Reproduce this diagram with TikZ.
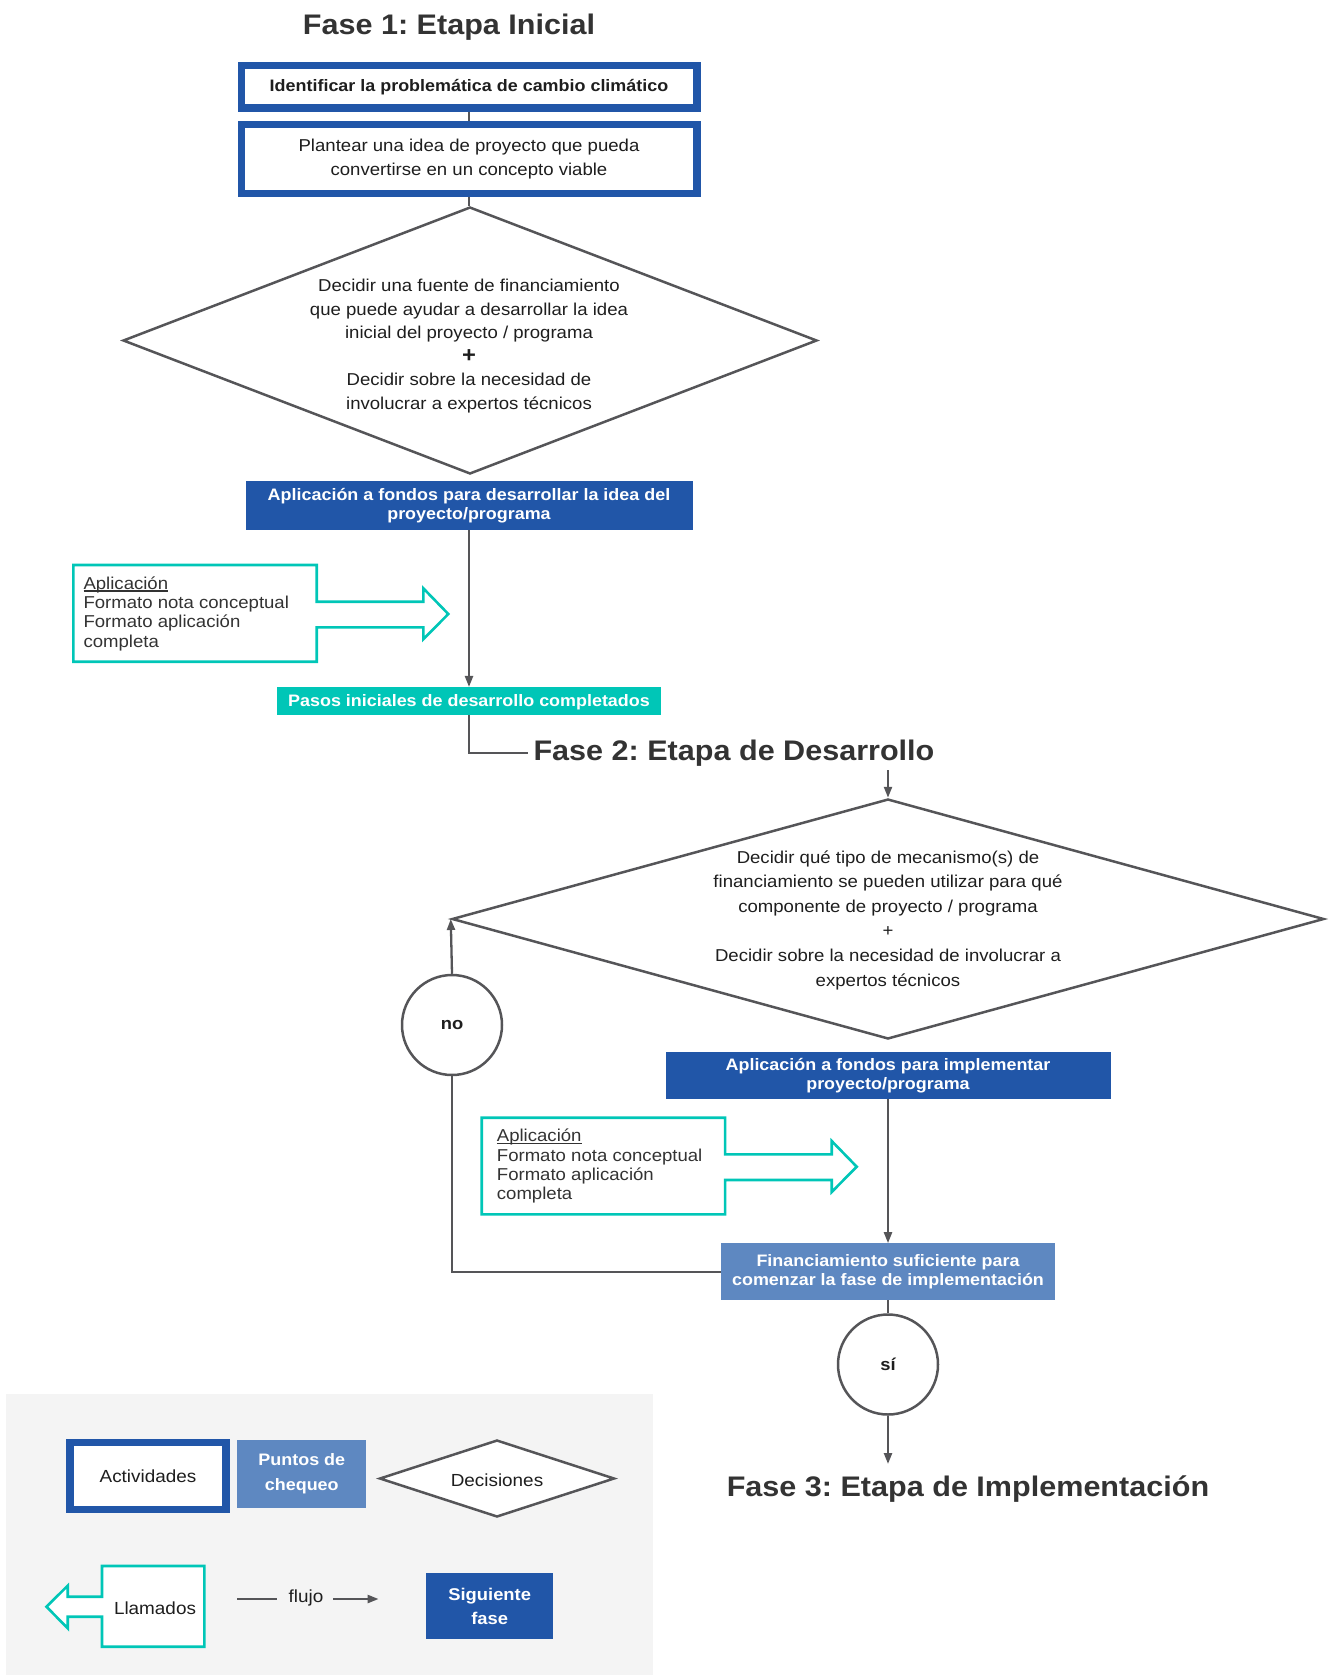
\documentclass[tikz,border=0pt]{standalone}
\usepackage{fontspec}
\setmainfont[FakeStretch=1.08]{Liberation Sans}
\usetikzlibrary{shapes.geometric,arrows.meta,calc}
\frenchspacing
\newlength\ulxlen
\newcommand{\ulx}[1]{\settowidth{\ulxlen}{#1}\rlap{\rule[-2.4pt]{\ulxlen}{1.2pt}}#1}
\definecolor{dblue}{RGB}{33,86,168}
\definecolor{lblue}{RGB}{94,136,193}
\definecolor{tealc}{RGB}{0,198,183}
\definecolor{lgbg}{RGB}{244,244,244}
\definecolor{lnc}{RGB}{85,85,88}
\definecolor{txc}{RGB}{30,30,30}
\definecolor{ttc}{RGB}{51,51,51}
\tikzset{
  actbox/.style={draw=dblue, line width=7.5pt, fill=white, inner sep=0pt, align=center, text=txc},
  bluebox/.style={fill=dblue, inner sep=0pt, align=center, text=white, font=\bfseries\fontsize{16.6}{19}\selectfont},
  lbox/.style={fill=lblue, inner sep=0pt, align=center, text=white, font=\bfseries\fontsize{16.6}{19}\selectfont},
  tbox/.style={fill=tealc, inner sep=0pt, align=center, text=white, font=\bfseries\fontsize{16.6}{19}\selectfont},
  dia/.style={diamond, draw=lnc, line width=2.5pt, inner sep=0pt},
  dtext/.style={align=center, text=txc, inner sep=0pt},
  circ/.style={circle, draw=lnc, line width=2.5pt, minimum size=100pt, inner sep=0pt, text=txc, font=\bfseries\fontsize{17}{20}\selectfont},
  conn/.style={draw=lnc, line width=2.3pt},
  arr/.style={conn, -{Triangle[length=11pt,width=8pt]}},
  callout/.style={draw=tealc, line width=2.6pt, fill=white, line join=miter},
  ctext/.style={align=left, anchor=west, inner sep=0pt, text=ttc, font=\fontsize{17.2}{19.3}\selectfont},
  ptitle/.style={anchor=base, inner sep=0pt, text=ttc, font=\bfseries\fontsize{28.3}{34}\selectfont},
  pics/callr/.style={code={
    \draw[callout] (243.4,36.7) -- (243.4,0) -- (0,0) -- (0,96.7) -- (243.4,96.7) -- (243.4,62.3)
      -- (350,62.3) -- (350,74.3) -- (375,49) -- (350,23.3) -- (350,36.7) -- cycle;}}
}
\begin{document}
\begin{tikzpicture}[x=1pt,y=-1pt]
\useasboundingbox (0,0) rectangle (1333,1675);

% ---------- Fase 1 ----------
\node[ptitle] (t1) at (449,35) {Fase 1: Etapa Inicial};

\node[actbox, minimum width=455.5pt, minimum height=42.5pt,
      font=\bfseries\fontsize{16.6}{19}\selectfont] (b1) at (469,87)
  {Identificar la problemática de cambio climático};
\node[actbox, minimum width=455.5pt, minimum height=68.5pt,
      font=\fontsize{17.2}{24.5}\selectfont] (b2) at (469,159)
  {Plantear una idea de proyecto que pueda\\convertirse en un concepto viable};

\node[dia, minimum width=694pt, minimum height=267pt] (d1) at (470,340.5) {};
\node[dtext, font=\fontsize{17.2}{23.5}\selectfont] (d1t) at (469,346)
  {Decidir una fuente de financiamiento\\que puede ayudar a desarrollar la idea\\inicial del proyecto / programa\\{\bfseries\fontsize{22}{23.5}\selectfont +}\\Decidir sobre la necesidad de\\involucrar a expertos técnicos};

\node[bluebox, minimum width=447pt, minimum height=49pt] (b3) at (469,505.5)
  {Aplicación a fondos para desarrollar la idea del\\proyecto/programa};

\pic at (73.3,565) {callr};
\node[ctext] (c1t) at (83.3,613.5)
  {\ulx{Aplicación}\\Formato nota conceptual\\Formato aplicación\\completa};

\node[tbox, minimum width=383.4pt, minimum height=27.7pt, text height=12.5pt, text depth=2.5pt] (b4) at (469,701)
  {Pasos iniciales de desarrollo completados};

\draw[conn] (b1.south) -- (b2.north);
\draw[conn] (b2.south) -- (b2.south |- d1.north);
\draw[arr] (b3.south) -- (b4.north);

% ---------- Fase 2 ----------
\node[ptitle] (t2) at (734,760) {Fase 2: Etapa de Desarrollo};
\draw[conn, shorten >=5pt] (b4.south) |- (t2.west);

\coordinate (d2in) at (888,770);
\node[dia, minimum width=872pt, minimum height=240pt] (d2) at (888,919) {};
\node[dtext, font=\fontsize{17.2}{24.6}\selectfont] (d2t) at (888,920)
  {Decidir qué tipo de mecanismo(s) de\\financiamiento se pueden utilizar para qué\\componente de proyecto / programa\\+\\Decidir sobre la necesidad de involucrar a\\expertos técnicos};
\draw[arr] (d2in) -- (d2.north);

\node[circ] (no) at (452,1025) {no};
\draw[arr] (no.north) -- (d2.west);

\node[bluebox, minimum width=445pt, minimum height=46.7pt] (b5) at (888,1075.7)
  {Aplicación a fondos para implementar\\proyecto/programa};

\pic at (481.7,1117.7) {callr};
\node[ctext] (c2t) at (496.7,1166.2)
  {\ulx{Aplicación}\\Formato nota conceptual\\Formato aplicación\\completa};

\node[lbox, minimum width=334pt, minimum height=56.7pt] (b6) at (888,1271.7)
  {Financiamiento suficiente para\\comenzar la fase de implementación};

\draw[arr] (b5.south) -- (b6.north);
\draw[conn] (no.south) |- (b6.west);

\node[circ] (si) at (888,1364.5) {sí};
\draw[conn] (b6.south) -- (si.north);
\coordinate (f3in) at (888,1464);
\draw[arr] (si.south) -- (f3in);

% ---------- Fase 3 ----------
\node[ptitle] (t3) at (968,1496) {Fase 3: Etapa de Implementación};

% ---------- Leyenda ----------
\fill[lgbg] (6,1394) rectangle (653,1675);
\node[actbox, minimum width=155.8pt, minimum height=66.9pt,
      font=\fontsize{17.5}{21}\selectfont] (la) at (148,1476) {Actividades};
\node[lbox, minimum width=129pt, minimum height=67.7pt,
      font=\bfseries\fontsize{16.6}{25}\selectfont] (lp) at (301.8,1474) {Puntos de\\chequeo};
\node[dia, minimum width=235pt, minimum height=77pt, fill=white] (ld) at (497,1478.5) {};
\node[dtext, font=\fontsize{17.5}{21}\selectfont] (ldt) at (497,1480) {Decisiones};

\draw[callout] (102,1596.7) -- (102,1566) -- (204.3,1566) -- (204.3,1646.7) -- (102,1646.7)
  -- (102,1616.7) -- (67.7,1616.7) -- (67.7,1628.3) -- (46.5,1606.7) -- (67.7,1585.7)
  -- (67.7,1596.7) -- cycle;
\node[dtext, font=\fontsize{17.5}{21}\selectfont] (ll) at (155,1608) {Llamados};

\coordinate (fa) at (237.3,1599);
\coordinate (fb) at (277,1599);
\node[dtext, font=\fontsize{17.5}{21}\selectfont] (lf) at (306,1598) {flujo};
\coordinate (fc) at (333,1599);
\coordinate (fd) at (378.6,1599);
\draw[conn] (fa) -- (fb);
\draw[arr] (fc) -- (fd);

\node[bluebox, minimum width=127.3pt, minimum height=66pt,
      font=\bfseries\fontsize{17}{24}\selectfont] (ls) at (489.7,1606.3) {Siguiente\\fase};
\end{tikzpicture}
\end{document}
